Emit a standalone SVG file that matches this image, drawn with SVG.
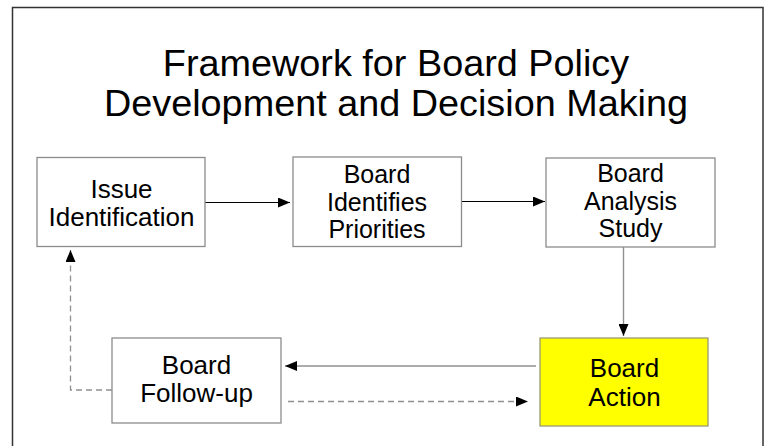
<svg xmlns="http://www.w3.org/2000/svg" width="769" height="446" viewBox="0 0 769 446">
  <style>
    text { font-family: "Liberation Sans", Arial, sans-serif; fill: #000; text-anchor: middle; }
    .title { font-size: 37.8px; }
    .lbl { font-size: 26px; }
    .lbl3 { font-size: 25px; }
    .box { fill: #fff; stroke: #8c8c8c; stroke-width: 1.3; }
    .hl { fill: #ffff00; stroke: #9a9a70; stroke-width: 1.3; }
    .solid { fill: none; stroke: #000; stroke-width: 1.2; }
    .gray { fill: none; stroke: #909090; stroke-width: 1.4; }
    .dash { fill: none; stroke: #909090; stroke-width: 1.3; stroke-dasharray: 6 4; }
  </style>
  <defs>
    <marker id="arr" viewBox="0 0 12 10" refX="12" refY="5" markerWidth="12" markerHeight="10" markerUnits="userSpaceOnUse" orient="auto">
      <path d="M0,0 L12,5 L0,10 Z" fill="#000"/>
    </marker>
  </defs>
  <rect x="0" y="0" width="769" height="446" fill="#fff"/>
  <path d="M12.5,450 V7.5 H763 V450" fill="none" stroke="#333" stroke-width="1.5"/>
  <g id="title">
    <text class="title" x="396" y="76">Framework for Board Policy</text>
    <text class="title" x="396" y="116">Development and Decision Making</text>
  </g>
  <g id="connectors">
    <line class="solid" x1="205" y1="202.5" x2="290" y2="202.5" marker-end="url(#arr)"/>
    <line class="solid" x1="462" y1="201.5" x2="545" y2="201.5" marker-end="url(#arr)"/>
    <line class="gray" x1="623.5" y1="247" x2="623.5" y2="336" marker-end="url(#arr)"/>
    <line class="gray" x1="536" y1="366" x2="285" y2="366" marker-end="url(#arr)"/>
    <line class="dash" x1="288" y1="401.5" x2="528" y2="401.5" marker-end="url(#arr)"/>
    <path class="dash" d="M112,390 H70.5 V250" marker-end="url(#arr)"/>
  </g>
  <g id="issue-identification">
    <rect class="box" x="37" y="157.5" width="168" height="89"/>
    <text class="lbl" x="121.5" y="197.5">Issue</text>
    <text class="lbl" x="121.5" y="226">Identification</text>
  </g>
  <g id="board-identifies-priorities">
    <rect class="box" x="293" y="157" width="168.5" height="89.5"/>
    <text class="lbl3" x="377" y="183">Board</text>
    <text class="lbl3" x="377" y="210.5">Identifies</text>
    <text class="lbl3" x="377" y="238">Priorities</text>
  </g>
  <g id="board-analysis-study">
    <rect class="box" x="546" y="158" width="169" height="89"/>
    <text class="lbl3" x="630.5" y="182">Board</text>
    <text class="lbl3" x="630.5" y="209.5">Analysis</text>
    <text class="lbl3" x="630.5" y="237">Study</text>
  </g>
  <g id="board-follow-up">
    <rect class="box" x="112" y="338" width="169" height="85"/>
    <text class="lbl" x="196.5" y="373.5">Board</text>
    <text class="lbl" x="196.5" y="402">Follow-up</text>
  </g>
  <g id="board-action">
    <rect class="hl" x="540" y="338" width="168" height="88"/>
    <text class="lbl" x="624.5" y="377">Board</text>
    <text class="lbl" x="624.5" y="406">Action</text>
  </g>
</svg>
